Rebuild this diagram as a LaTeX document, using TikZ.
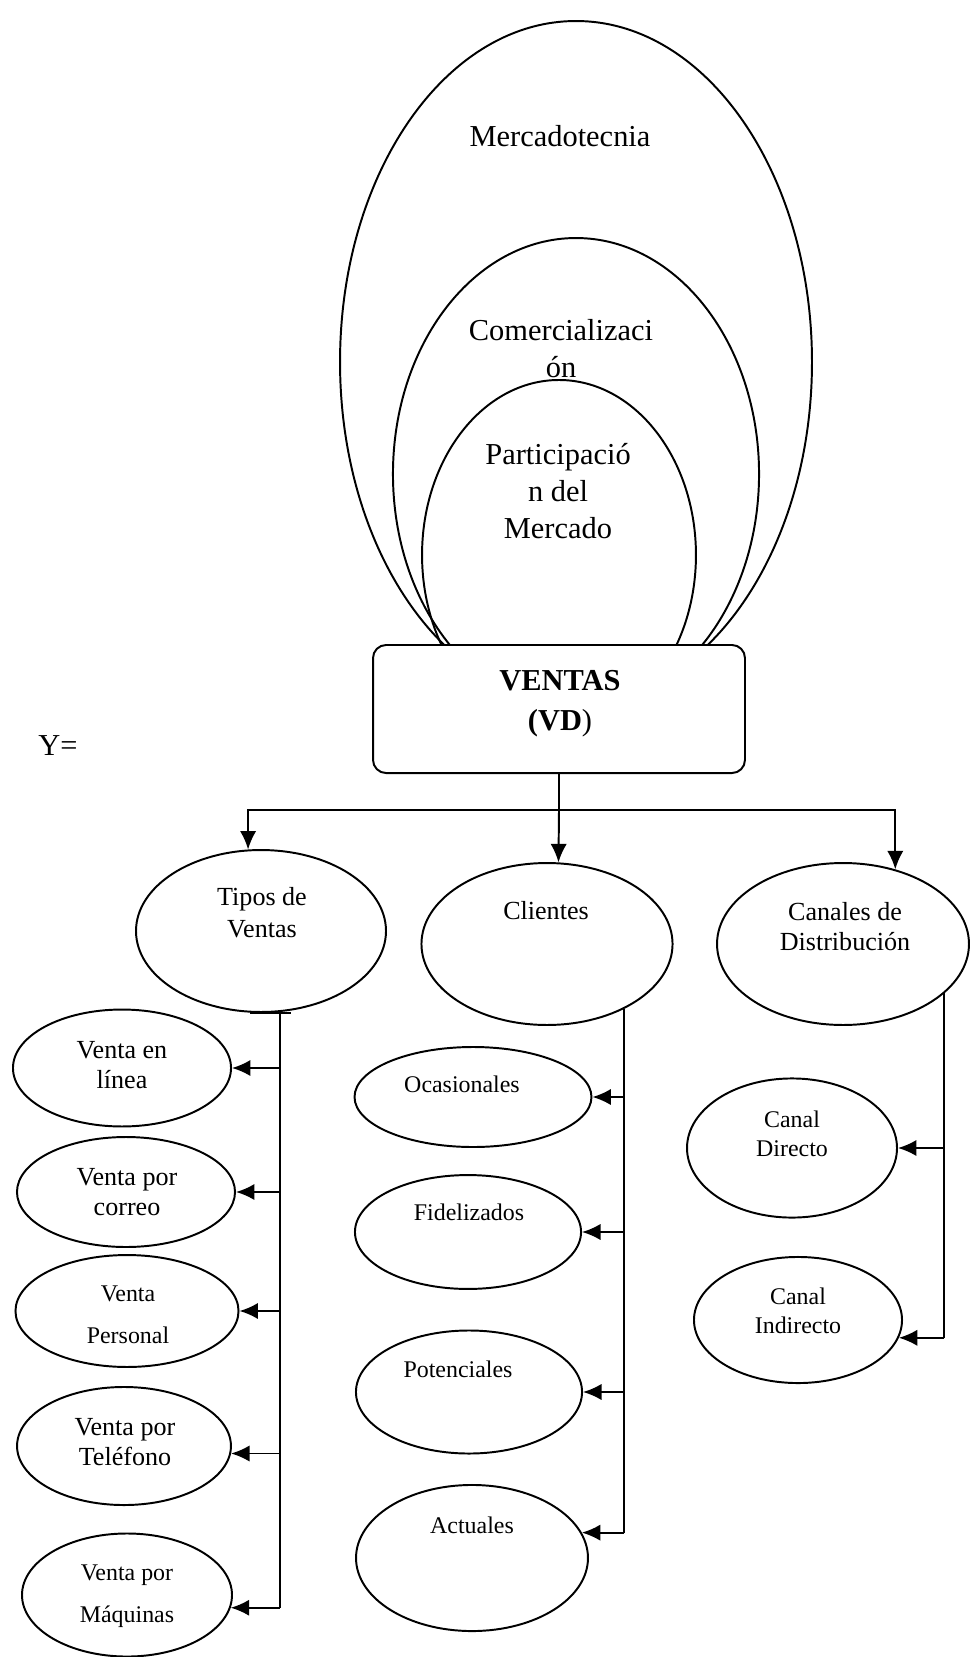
\documentclass[tikz,border=0pt]{standalone}
\usepackage{fontspec}
\setmainfont{Liberation Serif}
\usetikzlibrary{shapes.geometric,arrows.meta}

\newcommand{\fuenteG}{\fontsize{14}{17}\selectfont}
\newcommand{\fuenteM}{\fontsize{12}{13.8}\selectfont}
\newcommand{\fuenteP}{\fontsize{11}{12.9}\selectfont}

\tikzset{
  oval/.style={draw, ellipse, line width=0.9pt, inner sep=0pt},
  caja/.style={draw, fill=white, rounded corners=6pt, line width=0.9pt, inner sep=0pt,
    minimum width=171.1pt, minimum height=58.9pt},
  linea/.style={line width=0.9pt},
  arr/.style={linea, -{Latex[length=8.5pt,width=7.5pt]}},
  txt/.style={align=center, anchor=base, inner sep=0pt},
}

\begin{document}
\begin{tikzpicture}[x=0.46pt,y=-0.46pt]
\useasboundingbox (0,0) rectangle (970,1657);

% ovalos de arriba
\node[oval, minimum width=217.1pt, minimum height=313.7pt] (merca) at (576,362) {};
\node[oval, minimum width=168.4pt, minimum height=217.1pt] (comer) at (576,474) {};
\node[oval, minimum width=126pt, minimum height=161pt] (parti) at (559,555) {};
\node[txt, font=\fuenteG] (mercatxt) at (560,147) {Mercadotecnia};
\node[txt, font=\fuenteG] (comertxt) at (561,377) {Comercializaci\\ón};
\node[txt, font=\fuenteG] (partitxt) at (558,538) {Participació\\n del\\Mercado};

% caja central
\node[caja] (ventas) at (559,709) {};
\node[txt, font=\fontsize{14}{18.4}\selectfont\bfseries] (ventastxt) at (560,730) {VENTAS\\(VD{\mdseries)}};
\node[txt, anchor=base west, font=\fuenteG] (ye) at (38,755) {Y=};

% ramas
\node[oval, minimum width=115pt, minimum height=74.5pt] (tipos) at (261,931) {};
\node[oval, minimum width=115.5pt, minimum height=74.5pt] (clientes) at (547,944) {};
\node[oval, minimum width=115.9pt, minimum height=74.5pt] (canales) at (843,944) {};
\node[txt, font=\fontsize{12}{14.7}\selectfont] (tipostxt) at (262,937) {Tipos de\\Ventas};
\node[txt, font=\fuenteM] (clientestxt) at (546,919) {Clientes};
\node[txt, font=\fuenteM] (canalestxt) at (845,950) {Canales de\\Distribución};

% tipos de ventas
\node[oval, minimum width=100.3pt, minimum height=53.8pt] (enlinea) at (122,1068) {};
\node[oval, minimum width=100.3pt, minimum height=50.6pt] (correo) at (126,1192) {};
\node[oval, minimum width=102.6pt, minimum height=51.5pt] (personal) at (127,1311) {};
\node[oval, minimum width=98.4pt, minimum height=54.3pt] (telefono) at (124,1446) {};
\node[oval, minimum width=96.6pt, minimum height=56.6pt] (maquinas) at (127,1595) {};
\node[txt, font=\fuenteM] (enlineatxt) at (122,1088) {Venta en\\línea};
\node[txt, font=\fuenteM] (correotxt) at (127,1215) {Venta por\\correo};
\node[txt, font=\fontsize{11}{18.9}\selectfont] (personaltxt) at (128,1343) {Venta\\Personal};
\node[txt, font=\fuenteM] (telefonotxt) at (125,1465) {Venta por\\Teléfono};
\node[txt, font=\fontsize{11}{19.3}\selectfont] (maquinastxt) at (127,1622) {Venta por\\Máquinas};

% clientes
\node[oval, minimum width=109pt, minimum height=46pt] (ocasionales) at (473,1097) {};
\node[oval, minimum width=104pt, minimum height=52.4pt] (fidelizados) at (468,1232) {};
\node[oval, minimum width=104pt, minimum height=56.6pt] (potenciales) at (469,1392) {};
\node[oval, minimum width=106.7pt, minimum height=67.2pt] (actuales) at (472,1558) {};
\node[txt, font=\fuenteP] (ocasionalestxt) at (462,1092) {Ocasionales};
\node[txt, font=\fuenteP] (fidelizadostxt) at (469,1220) {Fidelizados};
\node[txt, font=\fuenteP] (potencialestxt) at (458,1377) {Potenciales};
\node[txt, font=\fuenteP] (actualestxt) at (472,1533) {Actuales};

% canales
\node[oval, minimum width=96.6pt, minimum height=64pt] (directo) at (792,1148) {};
\node[oval, minimum width=95.7pt, minimum height=58pt] (indirecto) at (798,1320) {};
\node[txt, font=\fuenteP] (directotxt) at (792,1156) {Canal\\Directo};
\node[txt, font=\fuenteP] (indirectotxt) at (798,1333) {Canal\\Indirecto};

% conectores
\coordinate (hub) at (559,810);
\draw[linea] (ventas.south) -- (hub);
\draw[arr] (hub) -| (tipos.99);
\draw[arr] (hub) -- (clientes.82);
\draw[arr] (hub) -| (canales.55);

\coordinate (riel1) at (tipos.-77);
\coordinate (riel2) at (clientes.-40);
\coordinate (riel3) at (canales.-26);
\draw[linea] ([xshift=-5pt]tipos.south) -- ([xshift=14pt]tipos.south);
\draw[linea] (riel1) -- (maquinas.-7 -| riel1);
\draw[linea] (riel2) -- (actuales.13 -| riel2);
\draw[linea] (riel3) -- (indirecto.-10 -| riel3);
\foreach \n/\a in {enlinea/0, correo/0, personal/0, telefono/-4, maquinas/-7}
  \draw[arr] (\n.\a -| riel1) -- (\n.\a);
\foreach \n/\a in {ocasionales/0, fidelizados/0, potenciales/0, actuales/13}
  \draw[arr] (\n.\a -| riel2) -- (\n.\a);
\foreach \n/\a in {directo/0, indirecto/-10}
  \draw[arr] (\n.\a -| riel3) -- (\n.\a);
\end{tikzpicture}
\end{document}
